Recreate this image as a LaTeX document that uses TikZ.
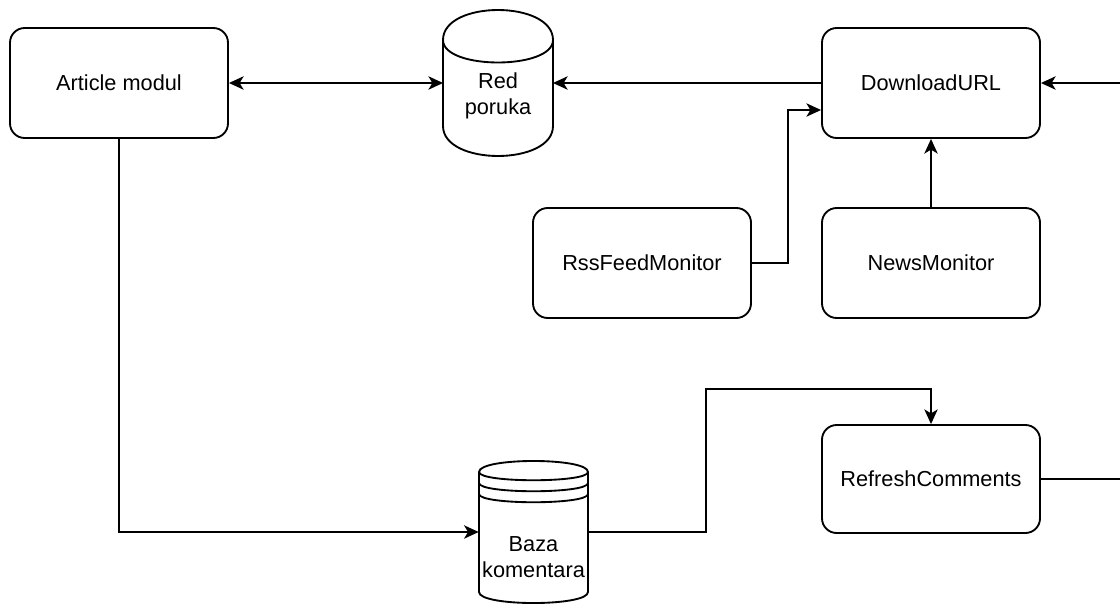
\documentclass[tikz,border=0pt]{standalone}
\usepackage{fontspec}
\setmainfont{Liberation Sans}
\usepackage{tikz}
\usetikzlibrary{arrows.meta, calc}
\tikzstyle{box} = [draw, line width=1.4pt, rounded corners=11pt, minimum width=163.5pt, minimum height=82.5pt, align=center]
\tikzstyle{store} = [minimum width=82pt, minimum height=109pt]
\tikzstyle{arr} = [line width=1.4pt, -{Stealth[length=11pt, width=10pt, inset=3pt]}]
\tikzstyle{dbl} = [line width=1.4pt, {Stealth[length=11pt, width=10pt, inset=3pt]}-{Stealth[length=11pt, width=10pt, inset=3pt]}]
\tikzstyle{conn} = [line width=1.4pt]

\begin{document}
\begin{tikzpicture}[x=0.75pt, y=-0.75pt, font=\fontsize{16.3}{19}\selectfont]
    % Page frame
    \fill[white] (0,0) rectangle (1120,603);
    \useasboundingbox (0,0) rectangle (1120,603);

    % Boxes
    \node[box] (article) at (119,83) {Article modul};
    \node[box] (download) at (931,83) {DownloadURL};
    \node[box] (rss) at (642,263) {RssFeedMonitor};
    \node[box] (news) at (931,263) {NewsMonitor};
    \node[box, minimum height=81pt] (refresh) at (931,479) {RefreshComments};

    % Message queue (cylinder)
    \draw[conn] (443,40) .. controls (443,0) and (553,0) .. (553,40) -- (553,126)
        .. controls (553,166) and (443,166) .. (443,126) -- cycle;
    \draw[conn] (443,40) .. controls (443,70) and (553,70) .. (553,40);
    \node[store] (queue) at (498,83) {};
    \node[align=center] (queuetxt) at (498,96) {Red\\poruka};

    % Comment database (data store)
    \draw[conn] (479,472) .. controls (479,457.3) and (588,457.3) .. (588,472) -- (588,592)
        .. controls (588,606.7) and (479,606.7) .. (479,592) -- cycle;
    \foreach \y in {472, 483, 494} {
        \draw[conn] (479,\y) .. controls (479,\y+11) and (588,\y+11) .. (588,\y);
    }
    \node[store, minimum width=81.75pt, minimum height=106pt] (db) at (533.5,532) {};
    \node[align=center] (dbtxt) at (533.5,557) {Baza\\komentara};

    % Loose ends at the right border
    \coordinate (inR) at (1120,83);
    \coordinate (outR) at (1120,479);

    % Connectors
    \draw[dbl] (article.east) -- (queue.west);
    \draw[arr] (download.west) -- (queue.east);
    \draw[arr] (inR) -- (download.east);
    \draw[arr] (rss.east) -- ++(36,0) |- ($(download.west)+(0,27)$);
    \draw[arr] (news.north) -- (download.south);
    \draw[arr] (article.south) |- (db.west);
    \draw[arr] (db.east) -- ++(118,0) |- ($(refresh.north)+(0,-35)$) -- (refresh.north);
    \draw[conn] (refresh.east) -- (outR);
\end{tikzpicture}
\end{document}
